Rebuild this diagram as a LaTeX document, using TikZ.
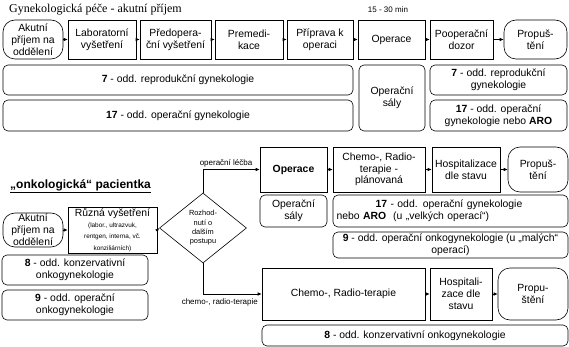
\documentclass[tikz,border=0pt]{standalone}
\usepackage{fontspec}
\setmainfont{Liberation Sans}
\newfontfamily\titlefont{Liberation Serif}
\usetikzlibrary{arrows.meta,shapes.geometric}
\newcommand{\smalltxt}{\fontsize{6.4}{7.6}\selectfont}
\begin{document}
\begin{tikzpicture}[x=1pt,y=-1pt,
  box/.style={draw, line width=0.6pt, align=center, inner sep=1pt,
    font=\fontsize{10.4}{11.8}\selectfont},
  term/.style={box, rounded corners=12pt},
  dept/.style={box, rounded corners=5pt},
  arr/.style={-{Latex[length=4pt,width=3.5pt]}, line width=0.6pt},
  lbl/.style={font=\fontsize{8}{9}\selectfont, inner sep=1pt}
]
\useasboundingbox (0,0) rectangle (569,347);

% ---------- acute admission ----------
\node[anchor=west, inner sep=0pt, font=\titlefont\fontsize{12}{13}\selectfont] (title) at (9,10) {Gynekologická péče - akutní příjem};
\node[lbl] (time) at (388,10) {15 - 30 min};

\node[term, minimum width=60pt, minimum height=39pt] (a1) at (33,39.5) {Akutní\\příjem na\\oddělení};
\node[box, minimum width=68pt, minimum height=39pt] (a2) at (102,39.5) {Laboratorní\\vyšetření};
\node[box, minimum width=71pt, minimum height=39pt] (a3) at (175.5,39.5) {Předopera-\\ční vyšetření};
\node[box, minimum width=68pt, minimum height=39pt] (a4) at (249,39.5) {Premedi-\\kace};
\node[box, minimum width=66pt, minimum height=39pt] (a5) at (320,39.5) {Příprava k\\operaci};
\node[box, minimum width=67pt, minimum height=39pt] (a6) at (391.5,39.5) {Operace};
\node[box, minimum width=63pt, minimum height=39pt] (a7) at (461.5,39.5) {Pooperační\\dozor};
\node[term, minimum width=63pt, minimum height=39pt] (a8) at (535.5,39.5) {Propuš-\\tění};

\foreach \p/\q in {a1/a2,a2/a3,a3/a4,a4/a5,a5/a6,a6/a7,a7/a8}
  \draw[arr] (\p.east) -- (\q.west);

\node[dept, minimum width=350pt, minimum height=30pt] (d7) at (178,80) {\textbf{7} - odd. reprodukční gynekologie};
\node[dept, minimum width=350pt, minimum height=31pt] (d17) at (178,115.5) {\textbf{17} - odd. operační gynekologie};
\node[dept, minimum width=66pt, minimum height=66pt] (sal) at (392,98) {Operační\\sály};
\node[dept, minimum width=137pt, minimum height=30pt] (d7r) at (498.5,80) {\textbf{7} - odd. reprodukční\\gynekologie};
\node[dept, minimum width=137pt, minimum height=31pt] (d17r) at (498.5,115.5) {\textbf{17} - odd. operační\\gynekologie nebo \textbf{ARO}};

% ---------- oncology patient ----------
\node[anchor=west, inner sep=0pt, font=\bfseries\fontsize{12}{13}\selectfont] (title2) at (10,186) {\underline{„onkologická“ pacientka}};

\node[term, minimum width=60pt, minimum height=34pt] (b1) at (33,230) {Akutní\\příjem na\\oddělení};
\node[box, minimum width=89pt, minimum height=34pt] (b2) at (112.5,230) {Různá vyšetření\\[-1pt]\smalltxt (labor., ultrazvuk,\\\smalltxt rentgen, interna, vč.\\\smalltxt konziliárních)};
\node[draw, line width=0.6pt, diamond, minimum width=87pt, minimum height=70pt, inner sep=0pt, align=center,
  font=\fontsize{7.4}{9.3}\selectfont] (dia) at (203,228) {Rozhod-\\nutí o\\dalším\\postupu};

\node[dept, minimum width=146pt, minimum height=30pt] (b8) at (75,270) {\textbf{8} - odd. konzervativní\\onkogynekologie};
\node[dept, minimum width=146pt, minimum height=30pt] (b9) at (75,305) {\textbf{9} - odd. operační\\onkogynekologie};

\node[box, minimum width=67pt, minimum height=45pt, font=\bfseries\fontsize{10.4}{11.8}\selectfont] (op) at (293.5,169.5) {Operace};
\node[box, minimum width=92pt, minimum height=45pt] (chp) at (379,169.5) {Chemo-, Radio-\\terapie -\\plánovaná};
\node[box, minimum width=68pt, minimum height=45pt] (hosp) at (466,169.5) {Hospitalizace\\dle stavu};
\node[term, minimum width=60pt, minimum height=45pt] (prop) at (538,169.5) {Propuš-\\tění};

\node[dept, minimum width=67pt, minimum height=32pt] (sal2) at (293.5,211) {Operační\\sály};
\node[dept, minimum width=235pt, minimum height=32pt, align=left, text width=228pt] (d17b) at (450.5,211)
  {\hspace*{39pt}\textbf{17} - odd. operační gynekologie\\nebo \textbf{ARO}\ \ (u „velkých operací“)};
\node[dept, minimum width=235pt, minimum height=26pt] (d9b) at (450.5,245) {\textbf{9} - odd. operační onkogynekologie (u „malých“\\operací)};

\node[box, minimum width=163pt, minimum height=52pt] (ch) at (343.5,294) {Chemo-, Radio-terapie};
\node[box, minimum width=62pt, minimum height=52pt] (hosp2) at (461,294) {Hospitali-\\zace dle\\stavu};
\node[term, minimum width=70pt, minimum height=52pt] (prop2) at (533,294) {Propu-\\štění};
\node[dept, minimum width=306pt, minimum height=21pt] (d8b) at (415,335.5) {\textbf{8} - odd. konzervativní onkogynekologie};

% connectors
\draw[arr] (b1.east) -- (b2.west);
\draw[arr] (b2.east) -- (dia.west);
\draw[arr] (dia.north) |- (op.west);
\draw[arr] (dia.south) |- (ch.west);
\draw[arr] (op.east) -- (chp.west);
\draw[arr] (chp.east) -- (hosp.west);
\draw[arr] (hosp.east) -- (prop.west);
\draw[arr] (ch.east) -- (hosp2.west);
\draw[arr] (hosp2.east) -- (prop2.west);

\node[lbl, anchor=south] (lop) at (226,168) {operační léčba};
\node[lbl, anchor=north east] (lch) at (259,298) {chemo-, radio-terapie};
\end{tikzpicture}
\end{document}
